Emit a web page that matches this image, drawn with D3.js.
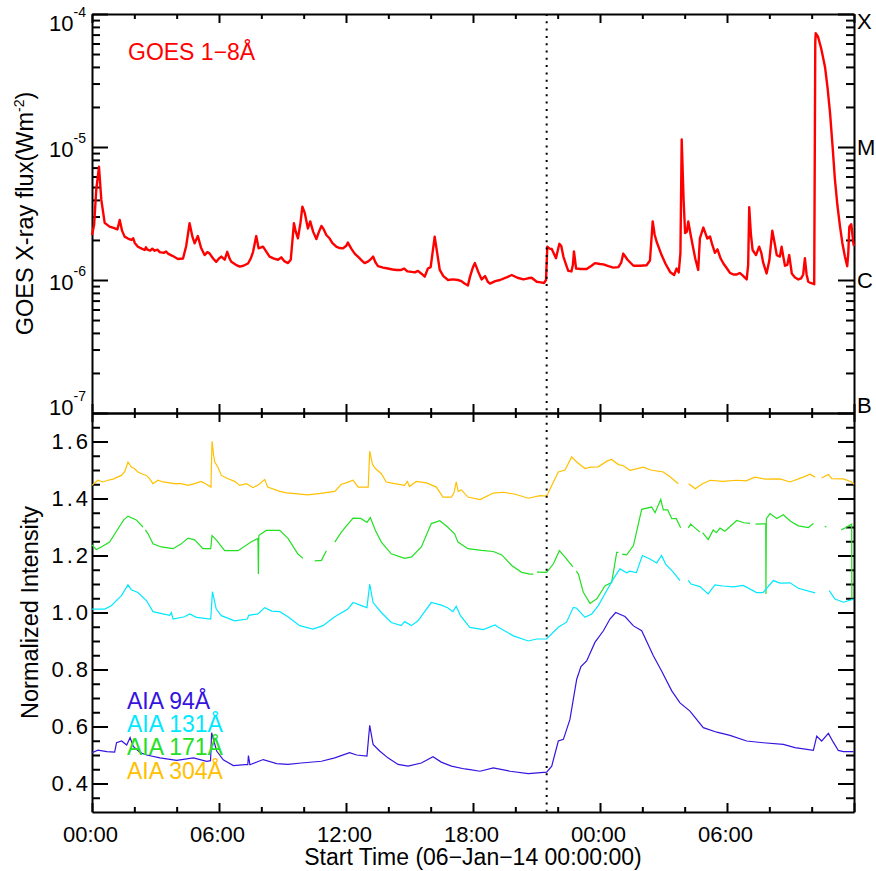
<!DOCTYPE html>
<html>
<head>
<meta charset="utf-8">
<script src="https://cdn.jsdelivr.net/npm/d3@7"></script>
<style>
  body { margin: 0; background: #fff; }
  svg text { font-family: "Liberation Sans", Arial, Helvetica, sans-serif; }
</style>
</head>
<body>
<div id="chart"></div>
<script>
// hours after 2014-01-06 00:00 UT, GOES 1-8 A flux in W m^-2
const goes = [
  [0.00, 2.18e-6], [0.10, 2.6e-6], [0.20, 4.75e-6], [0.33, 7.1e-6], [0.44, 4.0e-6], [0.60, 2.69e-6],
  [0.83, 2.52e-6], [1.05, 2.45e-6], [1.20, 2.40e-6], [1.31, 2.83e-6], [1.42, 2.35e-6], [1.54, 2.12e-6],
  [1.70, 2.05e-6], [1.86, 2.0e-6], [1.95, 2.06e-6], [2.02, 1.9e-6], [2.17, 1.78e-6], [2.35, 1.72e-6], [2.49, 1.68e-6],
  [2.55, 1.76e-6], [2.60, 1.70e-6], [2.75, 1.66e-6], [2.85, 1.72e-6], [2.96, 1.66e-6], [3.10, 1.69e-6],
  [3.20, 1.62e-6], [3.40, 1.60e-6], [3.50, 1.64e-6], [3.59, 1.58e-6],
  [3.80, 1.52e-6], [4.06, 1.44e-6], [4.30, 1.45e-6], [4.45, 1.8e-6], [4.61, 2.67e-6], [4.75, 2.1e-6],
  [4.85, 1.89e-6], [5.00, 2.14e-6], [5.15, 1.75e-6], [5.32, 1.54e-6], [5.45, 1.62e-6], [5.56, 1.58e-6],
  [5.72, 1.45e-6], [5.87, 1.37e-6], [6.00, 1.45e-6], [6.11, 1.50e-6], [6.27, 1.42e-6], [6.39, 1.63e-6],
  [6.50, 1.45e-6], [6.58, 1.37e-6], [6.80, 1.30e-6], [6.98, 1.26e-6], [7.15, 1.28e-6], [7.37, 1.33e-6],
  [7.50, 1.45e-6], [7.61, 1.63e-6], [7.76, 2.14e-6], [7.87, 1.73e-6], [8.08, 1.78e-6], [8.25, 1.62e-6],
  [8.39, 1.50e-6], [8.60, 1.45e-6], [8.79, 1.42e-6], [8.94, 1.48e-6], [9.10, 1.38e-6], [9.26, 1.34e-6],
  [9.39, 1.42e-6], [9.54, 2.67e-6], [9.63, 2.3e-6], [9.73, 2.06e-6], [9.85, 2.7e-6], [9.94, 3.56e-6],
  [10.05, 3.2e-6], [10.20, 2.44e-6], [10.31, 2.76e-6], [10.45, 2.3e-6], [10.60, 2.03e-6], [10.72, 2.3e-6],
  [10.84, 2.55e-6], [10.95, 2.4e-6], [11.07, 2.18e-6], [11.23, 2.05e-6], [11.35, 1.9e-6], [11.54, 1.78e-6],
  [11.70, 1.74e-6], [11.86, 1.73e-6], [12.00, 1.8e-6], [12.09, 1.91e-6], [12.25, 1.72e-6], [12.41, 1.58e-6],
  [12.60, 1.48e-6], [12.75, 1.40e-6], [12.88, 1.34e-6], [13.05, 1.38e-6], [13.20, 1.45e-6], [13.28, 1.50e-6],
  [13.40, 1.35e-6], [13.51, 1.27e-6], [13.75, 1.24e-6], [13.98, 1.22e-6], [14.20, 1.20e-6], [14.40, 1.19e-6],
  [14.61, 1.19e-6], [14.75, 1.22e-6], [14.90, 1.16e-6], [15.10, 1.15e-6], [15.25, 1.14e-6], [15.40, 1.17e-6],
  [15.55, 1.12e-6], [15.72, 1.06e-6], [15.87, 1.22e-6], [16.00, 1.25e-6], [16.19, 2.12e-6], [16.32, 1.55e-6],
  [16.43, 1.19e-6], [16.60, 1.07e-6], [16.82, 1.00e-6], [17.05, 1.01e-6], [17.29, 1.00e-6], [17.45, 0.98e-6],
  [17.60, 0.94e-6], [17.76, 0.91e-6], [17.86, 1.06e-6], [18.00, 1.25e-6], [18.09, 1.34e-6], [18.25, 1.15e-6],
  [18.41, 1.01e-6], [18.57, 1.07e-6], [18.70, 0.97e-6], [18.80, 0.94e-6], [19.05, 0.98e-6], [19.28, 1.00e-6],
  [19.55, 1.04e-6], [19.83, 1.09e-6], [20.10, 1.04e-6], [20.38, 1.01e-6], [20.60, 1.03e-6], [20.77, 1.04e-6],
  [21.01, 0.97e-6], [21.20, 0.96e-6], [21.36, 0.95e-6], [21.45, 1.0e-6], [21.51, 1.78e-6], [21.62, 1.72e-6],
  [21.72, 1.71e-6], [21.92, 1.46e-6], [22.08, 1.87e-6], [22.17, 1.8e-6], [22.27, 1.5e-6], [22.40, 1.3e-6],
  [22.50, 1.17e-6], [22.65, 1.16e-6], [22.72, 1.3e-6], [22.77, 1.64e-6], [22.87, 1.22e-6], [23.10, 1.21e-6],
  [23.37, 1.21e-6], [23.60, 1.28e-6], [23.76, 1.34e-6], [24.00, 1.32e-6], [24.16, 1.31e-6], [24.40, 1.27e-6],
  [24.63, 1.24e-6], [24.87, 1.25e-6], [25.00, 1.35e-6], [25.10, 1.58e-6], [25.30, 1.42e-6], [25.58, 1.28e-6],
  [25.89, 1.28e-6], [26.20, 1.29e-6], [26.36, 1.4e-6], [26.49, 2.76e-6], [26.58, 2.2e-6], [26.68, 1.93e-6],
  [26.91, 1.54e-6], [27.10, 1.32e-6], [27.31, 1.15e-6], [27.50, 1.09e-6], [27.62, 1.22e-6], [27.72, 1.14e-6],
  [27.80, 1.6e-6], [27.86, 1.14e-5], [27.95, 4.0e-6], [28.02, 2.25e-6], [28.10, 2.3e-6], [28.17, 2.76e-6],
  [28.28, 2.2e-6], [28.38, 1.82e-6], [28.50, 1.45e-6], [28.64, 1.19e-6], [28.72, 2.06e-6], [28.88, 2.48e-6],
  [29.00, 2.2e-6], [29.07, 2.05e-6], [29.20, 2.12e-6], [29.30, 1.85e-6], [29.43, 1.6e-6], [29.55, 1.7e-6],
  [29.70, 1.45e-6], [29.83, 1.33e-6], [30.00, 1.22e-6], [30.14, 1.13e-6], [30.30, 1.10e-6], [30.46, 1.10e-6],
  [30.60, 1.13e-6], [30.75, 1.08e-6], [30.93, 1.01e-6], [31.00, 1.3e-6], [31.05, 3.52e-6], [31.13, 2.2e-6],
  [31.21, 1.68e-6], [31.37, 1.54e-6], [31.52, 1.78e-6], [31.62, 1.6e-6], [31.71, 1.35e-6], [31.87, 1.12e-6],
  [32.00, 1.4e-6], [32.14, 2.35e-6], [32.25, 1.9e-6], [32.35, 1.54e-6], [32.50, 1.5e-6], [32.58, 1.78e-6],
  [32.66, 1.5e-6], [32.74, 1.28e-6], [32.85, 1.3e-6], [32.94, 1.54e-6], [33.06, 1.12e-6], [33.20, 1.05e-6],
  [33.37, 1.01e-6], [33.50, 1.03e-6], [33.60, 1.1e-6], [33.68, 1.46e-6], [33.76, 1.1e-6], [33.84, 0.97e-6],
  [33.95, 0.95e-6], [34.12, 0.93e-6], [34.17, 6.0e-5], [34.19, 7.16e-5], [34.30, 6.75e-5], [34.45, 5.5e-5],
  [34.63, 4.0e-5], [34.75, 2.8e-5], [34.87, 1.79e-5], [35.00, 9.5e-6], [35.10, 5.65e-6], [35.22, 3.6e-6],
  [35.34, 2.52e-6], [35.45, 1.9e-6], [35.57, 1.5e-6], [35.68, 1.27e-6], [35.73, 1.6e-6], [35.78, 2.52e-6],
  [35.87, 2.63e-6], [35.97, 1.89e-6], [36.00, 1.8e-6]
];

// AIA normalized intensities (null = data gap)
const aia304 = [
  [0.00, 1.446], [0.28, 1.464], [0.50, 1.458], [0.76, 1.464], [1.00, 1.468], [1.20, 1.475], [1.39, 1.481],
  [1.55, 1.495], [1.70, 1.528], [1.86, 1.51], [2.00, 1.505], [2.17, 1.493], [2.40, 1.485], [2.57, 1.481],
  [2.72, 1.47], [2.88, 1.452], [3.12, 1.464], [3.35, 1.458], [3.59, 1.456], [3.90, 1.452], [4.22, 1.452],
  [4.54, 1.446], [4.85, 1.452], [5.16, 1.46], [5.40, 1.45], [5.62, 1.44], [5.67, 1.601], [5.75, 1.55],
  [5.80, 1.528], [5.95, 1.51], [6.11, 1.481], [6.40, 1.47], [6.74, 1.46], [6.98, 1.446], [7.30, 1.452],
  [7.61, 1.438], [7.90, 1.45], [8.16, 1.467], [8.30, 1.44], [8.87, 1.425], [9.20, 1.42], [9.58, 1.417],
  [10.20, 1.413], [10.80, 1.418], [11.47, 1.425], [11.78, 1.45], [12.00, 1.455], [12.33, 1.464],
  [12.57, 1.44], [13.05, 1.44], [13.12, 1.566], [13.25, 1.52], [13.39, 1.505], [13.67, 1.487], [13.90, 1.458],
  [14.30, 1.452], [14.77, 1.446], [14.90, 1.46], [15.00, 1.442], [15.32, 1.46], [15.80, 1.455], [16.27, 1.44],
  [16.58, 1.405], [16.98, 1.405], [17.10, 1.42], [17.21, 1.458], [17.30, 1.425], [17.45, 1.43], [17.76, 1.405],
  [18.33, 1.396], [18.96, 1.419], [19.43, 1.422], [20.00, 1.415], [20.61, 1.401], [21.17, 1.41], [21.48, 1.408],
  [21.72, 1.446], [22.03, 1.493], [22.35, 1.5], [22.66, 1.546], [22.90, 1.528], [23.29, 1.505], [23.55, 1.51],
  [23.92, 1.511], [24.32, 1.531], [24.55, 1.537], [24.87, 1.519], [25.10, 1.515], [25.42, 1.499], [26.05, 1.51],
  [26.40, 1.5], [26.99, 1.493], [27.31, 1.476], [27.70, 1.452], [27.80, null], [28.19, 1.452], [28.50, 1.434],
  [28.80, 1.45], [29.20, 1.464], [29.80, 1.46], [30.46, 1.464], [30.90, 1.462], [31.32, 1.475], [31.80, 1.468],
  [32.50, 1.469], [32.98, 1.458], [33.60, 1.475], [33.92, 1.485], [34.16, 1.475], [34.25, null], [34.47, 1.472],
  [34.79, 1.484], [34.95, 1.47], [35.50, 1.469], [35.89, 1.458], [36.00, 1.45]
];

const aia171 = [
  [0.00, 1.237], [0.20, 1.221], [0.44, 1.23], [0.83, 1.247], [1.23, 1.294], [1.50, 1.325], [1.70, 1.338],
  [2.09, 1.325], [2.41, 1.30], [2.46, null], [2.52, 1.29], [2.65, 1.276], [2.88, 1.241], [3.27, 1.23], [3.83, 1.224],
  [4.20, 1.24], [4.54, 1.261], [4.85, 1.255], [5.24, 1.224], [5.61, 1.224], [5.67, 1.27], [5.87, 1.255],
  [6.27, 1.217], [6.90, 1.217], [7.53, 1.248], [7.84, 1.26], [7.86, 1.135], [7.88, 1.27], [8.23, 1.288],
  [8.87, 1.288], [9.26, 1.26], [9.73, 1.205], [9.97, 1.19], [10.10, null], [10.52, 1.181], [10.84, 1.183],
  [11.07, 1.217], [11.20, null], [11.47, 1.247], [11.78, 1.282], [12.33, 1.331], [12.70, 1.33], [12.99, 1.316],
  [13.15, 1.333], [13.39, 1.288], [13.67, 1.247], [14.14, 1.206], [14.77, 1.19], [15.10, 1.195], [15.56, 1.23],
  [16.03, 1.312], [16.43, 1.322], [16.80, 1.30], [17.13, 1.276], [17.29, 1.247], [17.76, 1.224], [18.40, 1.218],
  [18.96, 1.214], [19.36, 1.202], [19.83, 1.165], [20.30, 1.141], [20.69, 1.135], [20.85, 1.135], [20.92, null],
  [21.02, 1.142], [21.48, 1.141], [21.80, 1.171], [22.08, 1.217], [22.35, 1.194], [22.66, 1.165], [22.72, 1.16],
  [22.78, null], [22.88, 1.145], [22.98, 1.135],
  [23.21, 1.071], [23.53, 1.032], [23.85, 1.048], [24.24, 1.094], [24.55, 1.105], [24.79, 1.211], [24.87, 1.211],
  [24.95, null], [25.05, 1.205], [25.26, 1.202], [25.58, 1.235], [25.97, 1.362], [26.44, 1.37], [26.60, 1.35],
  [26.87, 1.397], [26.99, 1.36], [27.20, 1.36], [27.39, 1.329], [27.60, 1.33], [27.81, 1.297], [27.90, null],
  [28.17, 1.297], [28.28, 1.31], [28.72, 1.282], [28.77, null], [28.85, 1.28], [29.11, 1.256], [29.35, 1.29],
  [29.50, 1.28], [29.67, 1.296], [29.90, 1.285], [30.46, 1.323], [30.80, 1.315], [31.09, 1.313], [31.20, null],
  [31.35, 1.31], [31.71, 1.311], [31.83, 1.311], [31.84, 1.065], [31.86, 1.329], [32.03, 1.347], [32.35, 1.33],
  [32.66, 1.343], [33.00, 1.32], [33.37, 1.304], [33.84, 1.298], [34.08, 1.312], [34.15, null], [34.62, 1.302],
  [34.70, 1.300], [34.75, null], [35.40, 1.29], [35.62, 1.298], [35.89, 1.31], [35.90, 1.05]
];

const aia131 = [
  [0.00, 1.012], [0.60, 1.012], [0.91, 1.024], [1.39, 1.059], [1.70, 1.097], [1.86, 1.08], [2.17, 1.07],
  [2.57, 1.042], [2.88, 1.003], [3.35, 0.995], [3.67, 0.99], [3.75, 1.0], [3.83, 0.977], [4.38, 0.985],
  [4.61, 0.995], [4.93, 0.983], [5.61, 0.977], [5.69, 1.073], [5.87, 1.012], [6.11, 0.989], [6.74, 0.971],
  [7.34, 0.977], [7.40, 0.99], [7.84, 0.995], [8.16, 1.017], [8.50, 1.005], [8.87, 1.003], [9.26, 0.985],
  [9.81, 0.954], [10.44, 0.942], [10.91, 0.954], [11.47, 0.985], [12.09, 1.012], [12.33, 1.035], [12.70, 1.025],
  [12.99, 1.017], [13.12, 1.10], [13.28, 1.035], [13.67, 1.0], [14.14, 0.965], [14.61, 0.954], [14.77, 0.968],
  [15.09, 0.954], [15.40, 0.971], [16.03, 1.035], [16.50, 1.026], [16.80, 1.017], [17.05, 1.003], [17.21, 1.022],
  [17.40, 0.99], [17.76, 0.956], [17.86, 0.948], [18.49, 0.94], [19.04, 0.956], [19.20, 0.948], [19.91, 0.918],
  [20.61, 0.90], [21.01, 0.907], [21.48, 0.907], [22.03, 0.948], [22.42, 0.966], [22.74, 1.018], [22.90, 1.015],
  [23.29, 0.983], [23.61, 0.995], [23.92, 1.024], [24.32, 1.077], [24.63, 1.118], [24.94, 1.153], [25.26, 1.139],
  [25.40, 1.145], [25.72, 1.14], [26.00, 1.20], [26.36, 1.188], [26.68, 1.174], [26.91, 1.20], [27.10, 1.17],
  [27.47, 1.141], [27.78, 1.112], [27.88, null], [28.17, 1.113], [28.30, 1.10], [28.72, 1.091], [29.11, 1.065],
  [29.43, 1.097], [29.80, 1.093], [30.30, 1.09], [30.77, 1.095], [31.40, 1.07], [31.70, 1.07], [32.19, 1.112],
  [32.50, 1.103], [32.98, 1.104], [33.37, 1.085], [34.16, 1.069], [34.30, null], [34.83, 1.077], [35.10, 1.047],
  [35.50, 1.036], [35.98, 1.047]
];

const aia94 = [
  [0.00, 0.508], [0.28, 0.517], [0.70, 0.512], [1.07, 0.51], [1.16, 0.543], [1.40, 0.549], [1.64, 0.535],
  [1.80, 0.561], [1.95, 0.53], [2.27, 0.509], [2.58, 0.50], [3.21, 0.49], [4.00, 0.481], [4.79, 0.49],
  [5.42, 0.478], [5.60, 0.48], [5.65, 0.578], [5.89, 0.514], [6.20, 0.483], [6.68, 0.463], [7.23, 0.466],
  [7.36, 0.466], [7.39, 0.498], [7.46, 0.466], [8.09, 0.484], [8.72, 0.47], [9.26, 0.467], [9.89, 0.472],
  [10.84, 0.478], [11.47, 0.49], [12.17, 0.508], [12.50, 0.5], [12.99, 0.496], [13.12, 0.604], [13.28, 0.537],
  [13.59, 0.514], [13.98, 0.49], [14.46, 0.467], [14.93, 0.461], [15.56, 0.472], [16.11, 0.494], [16.50, 0.475],
  [16.98, 0.461], [17.61, 0.451], [17.86, 0.449], [18.33, 0.443], [18.96, 0.455], [19.75, 0.443], [20.61, 0.435],
  [21.48, 0.44], [21.72, 0.461], [22.03, 0.549], [22.27, 0.555], [22.58, 0.625], [22.90, 0.766], [23.10, 0.81],
  [23.37, 0.83], [23.76, 0.895], [24.16, 0.936], [24.47, 0.977], [24.74, 1.0], [25.18, 0.986], [25.58, 0.953],
  [25.97, 0.936], [26.52, 0.848], [26.91, 0.795], [27.39, 0.725], [27.78, 0.683], [28.25, 0.654], [28.88, 0.596],
  [29.52, 0.58], [30.14, 0.569], [30.93, 0.549], [31.71, 0.543], [32.66, 0.537], [33.21, 0.526], [34.08, 0.516],
  [34.24, 0.566], [34.47, 0.549], [34.79, 0.576], [35.02, 0.545], [35.26, 0.516], [35.50, 0.512], [35.98, 0.512]
];

const aiaSeries = [
  { name: 'AIA 94Å', color: '#3514e0', data: aia94 },
  { name: 'AIA 131Å', color: '#00e8ff', data: aia131 },
  { name: 'AIA 171Å', color: '#22e022', data: aia171 },
  { name: 'AIA 304Å', color: '#ffc000', data: aia304 }
];

const timeTicks = [0, 6, 12, 18, 24, 30, 36];
const classLabels = [[1e-4, 'X'], [1e-5, 'M'], [1e-6, 'C'], [1e-7, 'B']];
const markerHour = 21.48;

const W = 876, H = 871;
const pLeft = 92, pRight = 854, pTop = 14, pMid = 413, pBottom = 812;
const FONT = 22;
const TITLE_FONT = 23.5;

const t0 = Date.UTC(2014, 0, 6);
const toDate = h => new Date(t0 + h * 3600e3);

const x = d3.scaleUtc().domain([toDate(0), toDate(36)]).range([pLeft, pRight]);
const yFlux = d3.scaleLog().domain([1e-7, 1e-4]).range([pMid, pTop]);
const yNorm = d3.scaleLinear().domain([0.3, 1.7]).range([pBottom, pMid]);

const svg = d3.select('#chart').append('svg')
  .attr('width', W).attr('height', H);

function styleAxis(g) {
  g.attr('font-size', FONT).attr('font-family', null);
  g.selectAll('path, line').attr('stroke', '#000').attr('stroke-width', 2);
  g.selectAll('text').attr('fill', '#000');
}

// labels at the ends of a panel are nudged inside it
function edgeShift(d) {
  if (d === 1e-4) return 7;
  if (d === 1e-7) return -8;
  return 0;
}

const majorTimes = timeTicks.map(toDate);
const minorTimes = d3.range(0, 37, 2).filter(h => h % 6 !== 0).map(toDate);
const fmt = d3.utcFormat('%H:%M');

// time axes on both panels, ticks pointing inward
function timeAxis(y, axisFn, labels) {
  const g = svg.append('g').attr('transform', `translate(0,${y})`);
  g.call(axisFn(x).tickValues(majorTimes).tickSize(-9).tickSizeOuter(0).tickPadding(14)
      .tickFormat((d, i) => labels && i < timeTicks.length - 1 ? fmt(d) : ''));
  g.append('g').call(axisFn(x).tickValues(minorTimes).tickSize(-5).tickSizeOuter(0).tickFormat(''))
    .select('.domain').remove();
  styleAxis(g);
  return g;
}
timeAxis(pTop, d3.axisTop, false);
timeAxis(pMid, d3.axisBottom, false);
timeAxis(pMid, d3.axisTop, false);
const gTime = timeAxis(pBottom, d3.axisBottom, true);
gTime.selectAll('.tick text').attr('dx', -2);

// top panel: log flux axes
const fluxMinor = d3.range(-7, -4).flatMap(e => d3.range(2, 10).map(k => k * Math.pow(10, e)));
const fluxMajor = classLabels.map(d => d[0]);

const gFluxL = svg.append('g').attr('transform', `translate(${pLeft},0)`);
gFluxL.call(d3.axisLeft(yFlux).tickValues(fluxMajor).tickSize(-16).tickSizeOuter(0).tickPadding(6));
gFluxL.append('g').call(d3.axisLeft(yFlux).tickValues(fluxMinor).tickSize(-8).tickSizeOuter(0).tickFormat(''))
  .select('.domain').remove();
styleAxis(gFluxL);
gFluxL.selectAll('.tick text').each(function (d) {
  if (d3.select(this).text() === '') return;
  const t = d3.select(this).text('10').attr('dy', '0.42em').attr('y', edgeShift(d));
  t.append('tspan').attr('font-size', 14).attr('dy', '-0.95em').text(Math.round(Math.log10(d)));
});

const gFluxR = svg.append('g').attr('transform', `translate(${pRight},0)`);
gFluxR.call(d3.axisRight(yFlux).tickValues(fluxMajor).tickSize(-16).tickSizeOuter(0).tickPadding(3)
  .tickFormat(d => classLabels.find(c => c[0] === d)[1]));
gFluxR.append('g').call(d3.axisRight(yFlux).tickValues(fluxMinor).tickSize(-8).tickSizeOuter(0).tickFormat(''))
  .select('.domain').remove();
styleAxis(gFluxR);
gFluxR.selectAll('.tick text').attr('y', d => edgeShift(d));

// bottom panel: normalized intensity axes
const normMajor = d3.range(0.4, 1.61, 0.2);
const normMinor = d3.range(0.35, 1.7, 0.05).filter(v => normMajor.every(m => Math.abs(m - v) > 0.01));

const gNormL = svg.append('g').attr('transform', `translate(${pLeft},0)`);
gNormL.call(d3.axisLeft(yNorm).tickValues(normMajor).tickSize(-16).tickSizeOuter(0).tickPadding(1)
  .tickFormat(d3.format('.1f')));
gNormL.append('g').call(d3.axisLeft(yNorm).tickValues(normMinor).tickSize(-8).tickSizeOuter(0).tickFormat(''))
  .select('.domain').remove();
styleAxis(gNormL);
gNormL.selectAll('.tick text').attr('letter-spacing', 3);

const gNormR = svg.append('g').attr('transform', `translate(${pRight},0)`);
gNormR.call(d3.axisRight(yNorm).tickValues(normMajor).tickSize(-16).tickSizeOuter(0).tickFormat(''));
gNormR.append('g').call(d3.axisRight(yNorm).tickValues(normMinor).tickSize(-8).tickSizeOuter(0).tickFormat(''))
  .select('.domain').remove();
styleAxis(gNormR);

// curves
const fluxLine = d3.line()
  .x(d => x(toDate(d[0])))
  .y(d => yFlux(d[1]));

svg.append('path')
  .datum(goes)
  .attr('d', fluxLine)
  .attr('fill', 'none')
  .attr('stroke', '#ff0000')
  .attr('stroke-width', 2.4)
  .attr('stroke-linejoin', 'round');

const normLine = d3.line()
  .defined(d => d[1] != null)
  .x(d => x(toDate(d[0])))
  .y(d => yNorm(d[1]));

svg.append('g').selectAll('path')
  .data(aiaSeries.slice().reverse())
  .join('path')
  .attr('d', d => normLine(d.data))
  .attr('fill', 'none')
  .attr('stroke', d => d.color)
  .attr('stroke-width', 1.2);

// flare onset marker
svg.append('line')
  .attr('x1', x(toDate(markerHour))).attr('x2', x(toDate(markerHour)))
  .attr('y1', pTop).attr('y2', pBottom)
  .attr('stroke', '#000')
  .attr('stroke-width', 2)
  .attr('stroke-dasharray', '2,5.3');

// legends
svg.append('text')
  .attr('x', 128).attr('y', 60)
  .attr('font-size', 23)
  .attr('fill', '#ff0000')
  .text('GOES 1−8Å');

svg.append('g').selectAll('text')
  .data(aiaSeries)
  .join('text')
  .attr('x', 127)
  .attr('y', (d, i) => 709 + i * 23.2)
  .attr('font-size', 23)
  .attr('fill', d => d.color)
  .text(d => d.name);

// axis titles
const fluxTitle = svg.append('text')
  .attr('transform', `translate(33,${(pTop + pMid) / 2}) rotate(-90)`)
  .attr('text-anchor', 'middle')
  .attr('font-size', TITLE_FONT);
fluxTitle.append('tspan').text('GOES X-ray flux(Wm');
fluxTitle.append('tspan').attr('font-size', 14).attr('dy', -9).text('-2');
fluxTitle.append('tspan').attr('dy', 9).text(')');

svg.append('text')
  .attr('transform', `translate(38,${(pMid + pBottom) / 2}) rotate(-90)`)
  .attr('text-anchor', 'middle')
  .attr('font-size', TITLE_FONT)
  .text('Normalized Intensity');

svg.append('text')
  .attr('x', (pLeft + pRight) / 2).attr('y', 865)
  .attr('text-anchor', 'middle')
  .attr('font-size', 23)
  .text('Start Time (06−Jan−14 00:00:00)');
</script>
</body>
</html>
